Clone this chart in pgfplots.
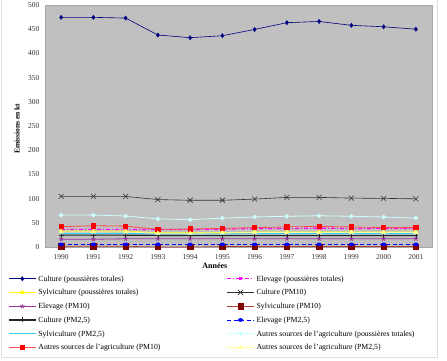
\documentclass[border=0pt]{standalone}
\usepackage{fontspec}
\setmainfont{Liberation Serif}
\usepackage{pgfplots}
\pgfplotsset{compat=1.18}
\definecolor{plotbg}{HTML}{C0C0C0}
\definecolor{navyc}{HTML}{000080}
\definecolor{magc}{HTML}{FF00FF}
\definecolor{yelc}{HTML}{FFFF00}
\definecolor{purc}{HTML}{993399}
\definecolor{dredc}{HTML}{800000}
\definecolor{brc}{HTML}{B04030}
\definecolor{bluc}{HTML}{0000FF}
\definecolor{cyac}{HTML}{33CCFF}
\definecolor{lcyac}{HTML}{CCFFFF}
\definecolor{redc}{HTML}{FF0000}
\definecolor{lyelc}{HTML}{FFFF99}
\begin{document}
\begin{tikzpicture}
\path[use as bounding box] (0pt,0pt) rectangle (447pt,361pt);
\draw[black!12] (1.5pt,4pt) rectangle (437.5pt,361.5pt);
\begin{axis}[
  at={(45pt,114pt)}, anchor=south west, scale only axis,
  width=387pt, height=242pt,
  xmin=1989.5, xmax=2001.5, ymin=0, ymax=500,
  xtick={1990,...,2001}, ytick={0,50,...,500},
  major tick length=0pt,
  clip=false,
  axis background/.style={fill=plotbg},
  axis line style={black!35},
  /pgf/number format/assume math mode=true,
  /pgf/number format/1000 sep={},
  tick label style={font=\fontsize{7.5}{8}\selectfont, black!80},
  xticklabel style={yshift=-4pt},
  yticklabel style={xshift=-2pt},
  xlabel={\textbf{Années}},
  ylabel={\textbf{Emissions en kt}},
  xlabel style={at={(axis description cs:0.439,-0.079)}, anchor=center, font=\fontsize{8}{9}\selectfont},
  ylabel style={at={(axis description cs:-0.072,0.488)}, anchor=center, font=\fontsize{7.5}{8}\selectfont},
  legend columns=2,
  legend style={at={(axis description cs:-0.0956,-0.1198)}, anchor=north west,
    draw=none, fill=none, inner sep=0pt, row sep=7.2pt,
    font=\fontsize{7.8}{8.5}\selectfont,
    nodes={inner sep=0pt, text height=5pt, text depth=1.5pt, anchor=base west}},
  legend image code/.code={%
    \draw[#1, mark=none] (0pt,2.5pt) -- (27pt,2.5pt);
    \begin{scope}[shift={(13.5pt,2.5pt)}]\draw[#1] plot coordinates {(0pt,0pt)};\end{scope}
    \path (29pt,2.5pt);},
]
% 1 Culture (poussieres totales)
\addplot[navyc, line width=0.6pt, mark=diamond*, mark size=2pt, mark options={solid, fill=navyc, draw=navyc}] coordinates {
(1990,474.5)(1991,474.5)(1992,473)(1993,438)(1994,432.5)(1995,436.5)(1996,449.5)(1997,463.5)(1998,466)(1999,458)(2000,455)(2001,450)};
\addlegendentry{\makebox[188pt][l]{Culture (poussières totales)}}
% 2 Elevage (poussieres totales)
\addplot[magc, line width=1.2pt, dash pattern=on 4pt off 2pt on 1pt off 2pt, mark=square*, mark size=0.8pt, mark options={solid, fill=magc, draw=magc}] coordinates {
(1990,36)(1991,36)(1992,36)(1993,36)(1994,36)(1995,37)(1996,38)(1997,38)(1998,39)(1999,38)(2000,38)(2001,38)};
\addlegendentry{Elevage (poussières totales)}
% 3 Sylviculture (poussieres totales)
\addplot[yelc, line width=0.6pt, mark=triangle*, mark size=2.3pt, mark options={solid, fill=yelc, draw=yelc}] coordinates {
(1990,33)(1991,33)(1992,33)(1993,29.5)(1994,29.5)(1995,30)(1996,31)(1997,31)(1998,31)(1999,31)(2000,31)(2001,31)};
\addlegendentry{\makebox[188pt][l]{Sylviculture (poussières totales)}}
% 4 Culture (PM10)
\addplot[black!80, line width=0.6pt, mark=x, mark size=3.5pt, mark options={solid, draw=black!80}] coordinates {
(1990,104.5)(1991,104.5)(1992,104.5)(1993,98)(1994,96.5)(1995,96.5)(1996,99)(1997,102.5)(1998,102.5)(1999,101)(2000,100.5)(2001,99.5)};
\addlegendentry{Culture (PM10)}
% 5 Elevage (PM10)
\addplot[purc, line width=0.8pt, mark=star, mark size=2.3pt, mark options={solid, line width=0.8pt, draw=purc}] coordinates {
(1990,16)(1991,16)(1992,17)(1993,17)(1994,17)(1995,17)(1996,17)(1997,17)(1998,17)(1999,17)(2000,17)(2001,17)};
\addlegendentry{\makebox[188pt][l]{Elevage (PM10)}}
% 6 Sylviculture (PM10)
\addplot[brc, line width=0.6pt, mark=square*, mark size=2.7pt, mark options={solid, fill=dredc, draw=dredc}] coordinates {
(1990,1.5)(1991,1.5)(1992,1.5)(1993,0)(1994,0)(1995,1)(1996,1)(1997,1)(1998,1)(1999,1)(2000,1)(2001,1)};
\addlegendentry{Sylviculture (PM10)}
% 7 Culture (PM2,5)
\addplot[black!85, line width=1.2pt, mark=+, mark size=2.5pt, mark options={solid, line width=0.6pt, draw=black!85}] coordinates {
(1990,24.5)(1991,24.5)(1992,24.5)(1993,24)(1994,23.5)(1995,23.5)(1996,23.5)(1997,23.5)(1998,23.5)(1999,23.5)(2000,23.5)(2001,23.5)};
\addlegendentry{\makebox[188pt][l]{Culture (PM2,5)}}
% 8 Elevage (PM2,5)
\addplot[bluc, line width=0.8pt, dash pattern=on 4pt off 2.5pt, mark=*, mark size=1.4pt, mark options={solid, fill=bluc, draw=bluc, xscale=1.6}] coordinates {
(1990,5.5)(1991,5.5)(1992,5.5)(1993,5.5)(1994,5.5)(1995,5.5)(1996,5.5)(1997,5.5)(1998,5.5)(1999,5.5)(2000,5.5)(2001,5.5)};
\addlegendentry{Elevage (PM2,5)}
% 9 Sylviculture (PM2,5)
\addplot[cyac, line width=0.9pt, mark=-, mark size=2pt, mark options={solid, line width=1.5pt, draw=cyac}] coordinates {
(1990,28)(1991,28)(1992,28)(1993,27)(1994,27)(1995,27)(1996,27.5)(1997,27.5)(1998,27.5)(1999,27.5)(2000,27.5)(2001,27.5)};
\addlegendentry{\makebox[188pt][l]{Sylviculture (PM2,5)}}
% 10 Autres sources (poussieres totales)
\addplot[lcyac, line width=0.8pt, mark=*, mark size=1.8pt, mark options={solid, fill=lcyac, draw=lcyac}] coordinates {
(1990,66)(1991,66)(1992,64)(1993,58)(1994,56.5)(1995,59.5)(1996,62)(1997,63.5)(1998,64.5)(1999,63.5)(2000,62)(2001,59.5)};
\addlegendentry{Autres sources de l'agriculture (poussières totales)}
% 11 Autres sources (PM10)
\addplot[redc!70, line width=0.8pt, mark=square*, mark size=2.2pt, mark options={solid, fill=redc, draw=redc}] coordinates {
(1990,42)(1991,44)(1992,43)(1993,36.5)(1994,37)(1995,38.5)(1996,40)(1997,41.5)(1998,42.5)(1999,41.5)(2000,40)(2001,40)};
\addlegendentry{\makebox[188pt][l]{Autres sources de l'agriculture (PM10)}}
% 12 Autres sources (PM2,5)
\addplot[lyelc, line width=0.8pt, mark=triangle*, mark size=2pt, mark options={solid, fill=lyelc, draw=lyelc}] coordinates {
(1990,31)(1991,31)(1992,31)(1993,28.5)(1994,28.5)(1995,29)(1996,30)(1997,30)(1998,30)(1999,30)(2000,30)(2001,30)};
\addlegendentry{Autres sources de l'agriculture (PM2,5)}
\end{axis}
\end{tikzpicture}
\end{document}
